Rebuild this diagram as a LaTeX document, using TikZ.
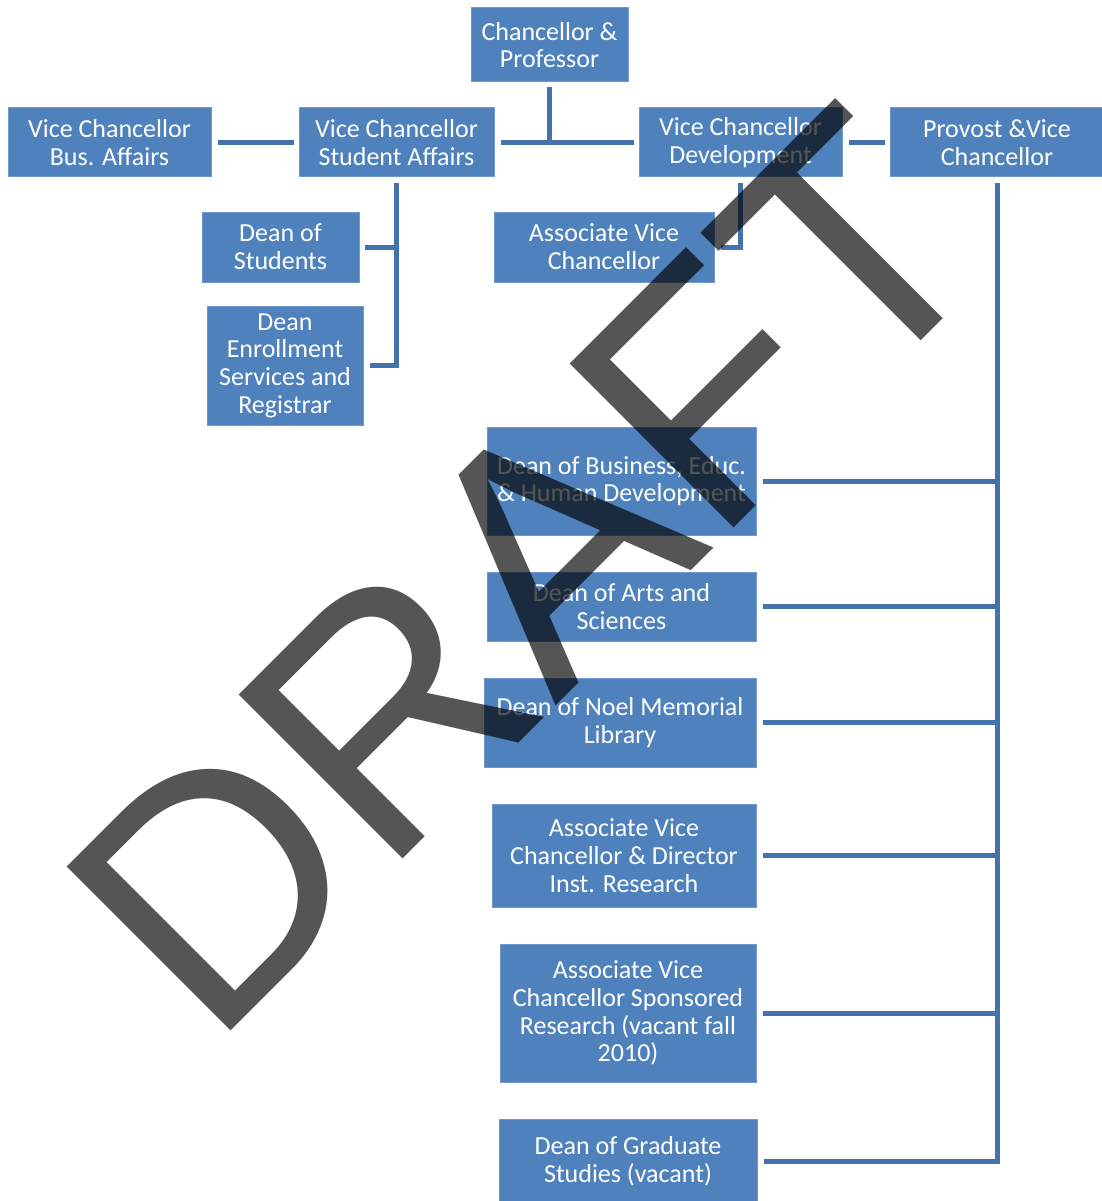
\documentclass[tikz,border=0pt]{standalone}
\usepackage{fontspec}
\setmainfont{Carlito}
\newfontfamily\wmfont{Liberation Sans}
\definecolor{boxblue}{RGB}{79,129,189}
\definecolor{boxedge}{RGB}{110,152,206}
\definecolor{linkblue}{RGB}{68,114,170}
\begin{document}
\begin{tikzpicture}[x=1pt,y=-1pt,
  orgbox/.style={rectangle, fill=boxblue, draw=boxedge, line width=1pt, text=white,
    align=center, inner sep=0pt, font=\fontsize{26}{27.7}\selectfont},
  link/.style={draw=linkblue, line width=5pt},
  watermark/.style={anchor=base west, rotate=45, inner sep=0pt, text=black,
    text opacity=0.667, font=\wmfont\fontsize{337}{337}\selectfont}]
\useasboundingbox[fill=white] (0,0) rectangle (1101,1201);
% top row
\node[orgbox, minimum width=157, minimum height=74] (chan) at (549.5,45) {Chancellor \&\\Professor};
\node[orgbox, minimum width=203, minimum height=69] (vcba) at (109.5,142.5) {Vice Chancellor\\Bus. Affairs};
\node[orgbox, minimum width=195, minimum height=69] (vcsa) at (396.5,142.5) {Vice Chancellor\\Student Affairs};
\node[orgbox, minimum width=203, minimum height=69] (vcd) at (740.5,142.5) {Vice Chancellor\\Development};
\node[orgbox, minimum width=214, minimum height=69] (prov) at (997,142.5) {Provost \&Vice\\Chancellor};
% second level
\node[orgbox, minimum width=157, minimum height=70] (dos) at (280.5,247) {Dean of\\Students};
\node[orgbox, minimum width=156, minimum height=119] (der) at (285,365.5) {Dean\\Enrollment\\Services and\\Registrar};
\node[orgbox, minimum width=220, minimum height=70] (avc) at (604,247) {Associate Vice\\Chancellor};
% provost column
\node[orgbox, minimum width=269, minimum height=108] (dbus) at (621.5,481) {Dean of Business, Educ.\\\& Human Development};
\node[orgbox, minimum width=269, minimum height=69] (das) at (621.5,606.5) {Dean of Arts and\\Sciences};
\node[orgbox, minimum width=272, minimum height=89] (dlib) at (620,722.5) {Dean of Noel Memorial\\Library};
\node[orgbox, minimum width=264, minimum height=103] (avcir) at (624,855.5) {Associate Vice\\Chancellor \& Director\\Inst. Research};
\node[orgbox, minimum width=256, minimum height=138] (avcsr) at (628,1013) {Associate Vice\\Chancellor Sponsored\\Research (vacant fall\\2010)};
\node[orgbox, minimum width=258, minimum height=84] (dgs) at (628,1161) {Dean of Graduate\\Studies (vacant)};
% connectors
\draw[link] ([xshift=6pt]vcba.east) -- ([xshift=-5pt]vcsa.west);
\draw[link] ([xshift=6pt]vcsa.east) -- ([xshift=-5pt]vcd.west);
\draw[link] ([yshift=-5pt]chan.south) -- (chan.south |- vcsa.east);
\draw[link] ([xshift=6pt]vcd.east) -- ([xshift=-5pt]prov.west);
\draw[link] ([yshift=-6pt]vcsa.south) |- ([xshift=6pt]der.east);
\draw[link] (vcsa.south |- dos.east) -- ([xshift=5pt]dos.east);
\draw[link] ([yshift=-6pt]vcd.south) |- ([xshift=6pt]avc.east);
\draw[link] ([yshift=-6pt]prov.south) |- ([xshift=6pt]dgs.east);
\foreach \n in {dbus,das,dlib,avcir,avcsr}
  \draw[link] (prov.south |- \n.east) -- ([xshift=6pt]\n.east);
% watermark
\node[watermark] (wm) at (211,1051) {DRAFT};
\end{tikzpicture}
\end{document}
